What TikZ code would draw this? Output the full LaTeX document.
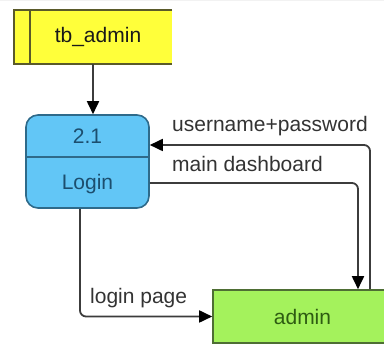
\documentclass[tikz,border=0pt]{standalone}
\usepackage{fontspec}
\setmainfont{Liberation Sans}
\usetikzlibrary{arrows.meta}
\definecolor{storefill}{HTML}{FFFF3A}
\definecolor{storeline}{HTML}{5A5A2A}
\definecolor{procfill}{HTML}{62C6F6}
\definecolor{procline}{HTML}{2E6A8A}
\definecolor{proctext}{HTML}{1C4E6E}
\definecolor{entfill}{HTML}{A4F25C}
\definecolor{entline}{HTML}{4E6E34}
\definecolor{enttext}{HTML}{2E5C12}
\definecolor{flowline}{HTML}{3C3C3C}
\tikzset{
  every node/.style={font=\fontsize{21}{25}\selectfont},
  flow/.style={draw=flowline, line width=1.8pt, rounded corners=6pt,
    -{Triangle[length=13pt,width=12pt,color=black]}},
  flowlabel/.style={anchor=west, inner sep=0pt, text=black!80},
}
\begin{document}
\begin{tikzpicture}[x=1pt,y=-1pt]
\useasboundingbox (0,0) rectangle (384,345);
\clip (0,0) rectangle (384,345);
% faint background grid
\draw[black!5, line width=0.4pt, step=8.5pt] (0,0) grid (384,-345);

% data store tb_admin (open on the right)
\node[fill=storefill, minimum width=158pt, minimum height=54pt, inner sep=0pt]
  (db) at (93,37) {};
\node[text=black!90] (dbtext) at (98,37) {tb\_admin};
\draw[storeline, line width=1.6pt] (db.north east) -- (db.north west)
  -- (db.south west) -- (db.south east);
\draw[storeline, line width=1.4pt] ([xshift=16pt]db.north west) -- ([xshift=16pt]db.south west);

% process 2.1 Login
\node[draw=procline, fill=procfill, line width=1.6pt, rounded corners=12pt,
  minimum width=123pt, minimum height=93pt, inner sep=0pt] (login) at (87.5,161.5) {};
\draw[procline, line width=1.6pt] ([yshift=4.5pt]login.west) -- ([yshift=4.5pt]login.east);
\node[text=proctext] (pid) at (87.5,136) {2.1};
\node[text=proctext] (pname) at (87.5,184) {Login};

% external entity admin
\node[draw=entline, fill=entfill, line width=1.6pt, minimum width=179pt,
  minimum height=53pt, inner sep=0pt] (admin) at (302.5,316.5) {};
\node[text=enttext] (atext) at (302.5,316.5) {admin};

% data flows
\draw[flow] (db.south) -- (db.south |- login.north);
\coordinate (upin) at ([yshift=16.5pt]login.east);
\coordinate (upsrc) at (admin.north -| 370,0);
\draw[flow] (upsrc) |- (upin);
\coordinate (dashsrc) at ([yshift=-21.5pt]login.east);
\coordinate (dashdst) at (admin.north -| 358,0);
\draw[flow] (dashsrc) -| (dashdst);
\coordinate (pagesrc) at (login.south -| 80,0);
\draw[flow] (pagesrc) |- (admin.west);

\node[flowlabel] (l1) at (172,126) {username+password};
\node[flowlabel] (l2) at (172,164) {main dashboard};
\node[flowlabel] (l3) at (90,298) {login page};
\end{tikzpicture}
\end{document}
